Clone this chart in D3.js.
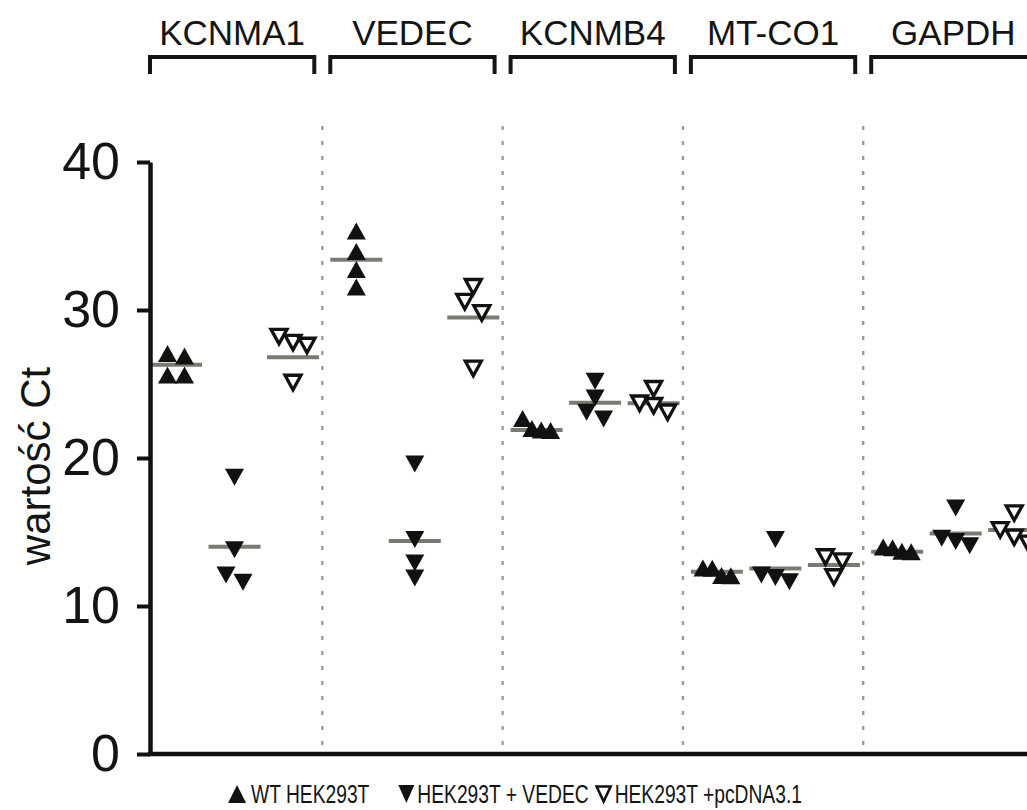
<!DOCTYPE html>
<html>
<head>
<meta charset="utf-8">
<script src="https://cdn.jsdelivr.net/npm/d3@7"></script>
<style>
  body { margin: 0; background: #fff; }
  svg { display: block; }
  text { font-family: "Liberation Sans", Arial, Helvetica, sans-serif; fill: #141414; }
</style>
</head>
<body>
<svg id="chart" width="1027" height="810"></svg>
<script>
// Genes (groups) and cell lines (series)
const genes = ["KCNMA1", "VEDEC", "KCNMB4", "MT-CO1", "GAPDH"];
const seriesKeys = ["wt", "vedec", "pcdna"];
const seriesLabels = ["WT HEK293T", "HEK293T + VEDEC", "HEK293T +pcDNA3.1"];

// Ct values of the replicates, one list per gene
const wtCt = [
  [27.06, 26.9, 25.6, 25.6],
  [35.34, 33.96, 32.74, 31.55],
  [22.67, 22.0, 21.9, 21.86],
  [12.57, 12.55, 12.06, 12.04],
  [13.99, 13.93, 13.7, 13.67]
];
const vedecCt = [
  [18.7, 13.8, 12.1, 11.6],
  [19.6, 14.5, 12.9, 11.9],
  [25.18, 24.05, 23.09, 22.64],
  [14.5, 12.1, 11.93, 11.64],
  [16.62, 14.57, 14.35, 14.07]
];
const pcdnaCt = [
  [28.2, 27.8, 27.6, 25.1],
  [31.57, 30.56, 29.8, 26.05],
  [24.68, 23.7, 23.53, 23.09],
  [13.31, 13.03, 11.96],
  [16.28, 15.14, 14.64, 14.23]
];

// Group means (horizontal bars)
const wtMean = [26.3, 33.4, 21.9, 12.32, 13.67];
const vedecMean = [14.0, 14.4, 23.74, 12.54, 14.9];
const pcdnaMean = [26.8, 29.5, 23.7, 12.77, 15.14];

const yTicks = [0, 10, 20, 30, 40];
const yLabel = "wartość Ct";

const values = { wt: wtCt, vedec: vedecCt, pcdna: pcdnaCt };
const means = { wt: wtMean, vedec: vedecMean, pcdna: pcdnaMean };

const svg = d3.select("#chart");

// Scales
const y = d3.scaleLinear().domain([0, 40]).range([754, 162]);
const xg = d3.scaleBand().domain(genes).range([142, 142 + 5 * 180.3]);
const xs = d3.scalePoint().domain(seriesKeys).range([34, 151]);
const axisX = 150;

// Triangle path centred on its bounding box
function tri(w, h, up) {
  const s = up ? 1 : -1;
  return `M${-w / 2},${s * h / 2}L${w / 2},${s * h / 2}L0,${-s * h / 2}Z`;
}
const markers = {
  wt:    { d: tri(19, 17, true),  fill: "#111", stroke: "none", sw: 0 },
  vedec: { d: tri(19, 17, false), fill: "#111", stroke: "none", sw: 0 },
  pcdna: { d: tri(16, 14.5, false), fill: "#fff", stroke: "#111", sw: 3.3 }
};

// Side-by-side spreading of replicates that sit at nearly the same height
function spread(vals, cx) {
  const pts = vals.map(v => ({ v, py: y(v) })).sort((a, b) => a.py - b.py);
  const rows = [];
  pts.forEach(p => {
    const last = rows[rows.length - 1];
    if (last && p.py - last[last.length - 1].py < 12) last.push(p);
    else rows.push([p]);
  });
  rows.forEach(r => {
    const step = r.length > 2 ? 28 / (r.length - 1) : 17;
    r.forEach((p, i) => { p.px = cx + (i - (r.length - 1) / 2) * step; });
  });
  return pts;
}

// Dotted separators between genes
svg.append("g").selectAll("line")
  .data(genes.slice(1))
  .join("line")
  .attr("x1", d => xg(d)).attr("x2", d => xg(d))
  .attr("y1", 126).attr("y2", 752)
  .attr("stroke", "#9c9c9c").attr("stroke-width", 2.4)
  .attr("stroke-dasharray", "4 11");

// Gene brackets and names
const head = svg.append("g").selectAll("g").data(genes).join("g");
head.append("path")
  .attr("d", d => {
    const a = xg(d) + 8, b = xg(d) + xg.bandwidth() - 8;
    return `M${a},74V57H${b}V74`;
  })
  .attr("fill", "none").attr("stroke", "#151515").attr("stroke-width", 4);
head.append("text")
  .attr("x", d => xg(d) + xg.bandwidth() / 2)
  .attr("y", 45)
  .attr("text-anchor", "middle")
  .attr("font-size", 35)
  .text(d => d);

// Mean bars
const meanRows = [];
genes.forEach((g, gi) => seriesKeys.forEach(k => meanRows.push({ g, k, v: means[k][gi] })));
svg.append("g").selectAll("line")
  .data(meanRows)
  .join("line")
  .attr("x1", d => xg(d.g) + xs(d.k) - 26)
  .attr("x2", d => xg(d.g) + xs(d.k) + 26)
  .attr("y1", d => y(d.v)).attr("y2", d => y(d.v))
  .attr("stroke", "#7a7a72").attr("stroke-width", 4);

// Replicate markers
const pointRows = [];
genes.forEach((g, gi) => seriesKeys.forEach(k => {
  spread(values[k][gi], xg(g) + xs(k)).forEach(p => pointRows.push({ k, ...p }));
}));
svg.append("g").selectAll("path")
  .data(pointRows)
  .join("path")
  .attr("transform", d => `translate(${d.px},${d.py})`)
  .attr("d", d => markers[d.k].d)
  .attr("fill", d => markers[d.k].fill)
  .attr("stroke", d => markers[d.k].stroke)
  .attr("stroke-width", d => markers[d.k].sw);

// Y axis
const yAxis = svg.append("g")
  .attr("transform", `translate(${axisX},0)`)
  .call(d3.axisLeft(y).tickValues(yTicks).tickSize(13).tickSizeOuter(0).tickPadding(17));
yAxis.select(".domain").attr("stroke", "#111").attr("stroke-width", 4.5);
yAxis.selectAll(".tick line").attr("stroke", "#111").attr("stroke-width", 4);
yAxis.selectAll(".tick text")
  .attr("font-size", 52)
  .attr("font-family", "'Liberation Sans', Arial, sans-serif")
  .attr("fill", "#141414");

// X axis baseline
svg.append("line")
  .attr("x1", axisX - 2).attr("x2", xg.range()[1])
  .attr("y1", y(0)).attr("y2", y(0))
  .attr("stroke", "#111").attr("stroke-width", 4.5);

// Y axis title
svg.append("text")
  .attr("transform", `translate(50,${(y(0) + y(40)) / 2 + 8}) rotate(-90)`)
  .attr("text-anchor", "middle")
  .attr("font-size", 42)
  .text(yLabel);

// Legend (narrow lettering)
const legend = svg.append("g");
const gaps = [28, 6];
const squeeze = 0.77;
let cursor = 0;
seriesKeys.forEach((k, i) => {
  const g = legend.append("g").attr("transform", `translate(${cursor},0)`);
  g.append("path")
    .attr("transform", "translate(9,-9)")
    .attr("d", k === "wt" ? tri(18, 18, true) : k === "vedec" ? tri(16, 18, false) : tri(14, 15, false))
    .attr("fill", markers[k].fill).attr("stroke", markers[k].stroke).attr("stroke-width", k === "pcdna" ? 2.6 : 0);
  const tx = k === "wt" ? 23 : 20;
  const t = g.append("text")
    .attr("transform", `translate(${tx},0) scale(${squeeze},1)`)
    .attr("font-size", 25)
    .text(seriesLabels[i]);
  cursor += tx + t.node().getComputedTextLength() * squeeze + (gaps[i] || 0);
});
legend.attr("transform", `translate(${515 - cursor / 2},803)`);
</script>
</body>
</html>
